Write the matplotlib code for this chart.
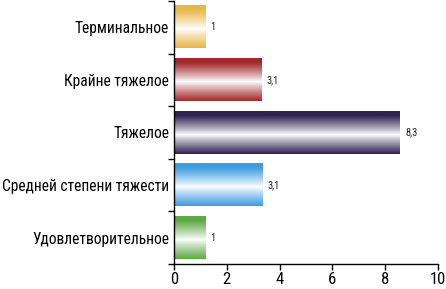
import numpy as np
import matplotlib
matplotlib.use("Agg")
import matplotlib.pyplot as plt
from matplotlib import font_manager
from matplotlib.colors import to_rgb

categories = ["Терминальное", "Крайне тяжелое", "Тяжелое",
              "Средней степени тяжести", "Удовлетворительное"]
bar_lengths = [1.18, 3.3, 8.56, 3.34, 1.18]
value_labels = ["1", "3,1", "8,3", "3,1", "1"]
colors = ["#e8b64a", "#a3272c", "#2f2452", "#3d9de0", "#5fa845"]
xticks = [0, 2, 4, 6, 8, 10]

names = {f.name for f in font_manager.fontManager.ttflist}
fam = "DejaVu Sans"
for cand in ["Roboto Condensed", "PT Sans Narrow", "Fira Sans Condensed",
             "Sofia Sans Condensed", "Archivo Narrow", "IBM Plex Sans Condensed",
             "Open Sans Condensed"]:
    if cand in names:
        fam = cand
        break
plt.rcParams['font.family'] = [fam, 'DejaVu Sans']

fig = plt.figure(figsize=(4.46, 2.89), dpi=100)
ax = fig.add_axes([174/446, 1 - 264/289, (438-174)/446, 263/289])

n = len(categories)
h = 0.8
prof = np.linspace(0, 1, 100)
mix = np.clip(np.abs(prof - 0.55) / 0.45, 0, 1) ** 0.9
for i, (L, c, lab) in enumerate(zip(bar_lengths, colors, value_labels)):
    rgb = np.array(to_rgb(c))
    img = (1 - mix)[:, None] * np.ones(3)[None, :] + mix[:, None] * rgb[None, :]
    img = img[:, None, :]
    ax.imshow(img, extent=(0, L, i + h/2, i - h/2), aspect='auto',
              interpolation='bilinear', zorder=2)
    ax.text(L + 0.2, i, lab, va='center', ha='left', fontsize=7.5, color='#222222')

ax.set_xlim(0, 10)
ax.set_ylim(n - 0.5, -0.5)
ax.set_xticks(xticks)
ax.set_xticklabels([str(t) for t in xticks], fontsize=12)
ax.set_yticks(range(n))
ax.set_yticklabels(categories, fontsize=11.2)
ax.set_yticks(np.arange(-0.5, n, 1), minor=True)
ax.tick_params(axis='y', which='major', length=0, pad=3.5)
ax.tick_params(axis='y', which='minor', length=4, width=1)
ax.tick_params(axis='x', length=4, width=1, pad=2)
for s in ['top', 'right']:
    ax.spines[s].set_visible(False)
ax.spines['left'].set_linewidth(1)
ax.spines['bottom'].set_linewidth(1)

fig.savefig("out.png", dpi=100)
